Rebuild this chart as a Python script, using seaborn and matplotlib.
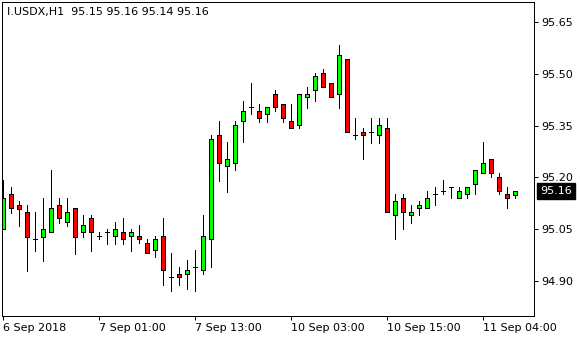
import numpy as np
import pandas as pd
import seaborn as sns
import matplotlib
matplotlib.use("Agg")
import matplotlib.pyplot as plt
from matplotlib.transforms import blended_transform_factory

symbol = "I.USDX,H1"

opens = [95.049, 95.151, 95.119, 95.099, 95.020, 95.028, 95.041, 95.119, 95.070, 95.110,
         95.041, 95.081, 95.029, 95.041, 95.029, 95.041, 95.029, 95.029, 95.009, 94.989,
         95.029, 94.910, 94.919, 94.919, 94.939, 94.931, 95.020, 95.322, 95.232, 95.241,
         95.362, 95.403, 95.392, 95.382, 95.440, 95.412, 95.363, 95.351, 95.432, 95.452,
         95.501, 95.472, 95.440, 95.542, 95.322, 95.330, 95.330, 95.322, 95.342, 95.090,
         95.139, 95.090, 95.110, 95.110, 95.152, 95.159, 95.171, 95.139, 95.152, 95.181,
         95.212, 95.252, 95.200, 95.152, 95.150]
highs = [95.192, 95.172, 95.131, 95.120, 95.100, 95.140, 95.221, 95.140, 95.140, 95.110,
         95.091, 95.091, 95.041, 95.051, 95.071, 95.081, 95.049, 95.062, 95.020, 95.029,
         95.081, 94.980, 94.939, 94.960, 94.989, 95.091, 95.322, 95.362, 95.301, 95.362,
         95.420, 95.472, 95.412, 95.403, 95.452, 95.412, 95.412, 95.440, 95.461, 95.501,
         95.513, 95.472, 95.583, 95.542, 95.371, 95.342, 95.371, 95.371, 95.371, 95.152,
         95.152, 95.119, 95.131, 95.159, 95.172, 95.192, 95.171, 95.172, 95.172, 95.221,
         95.302, 95.252, 95.212, 95.172, 95.160]
lows = [95.049, 95.097, 95.059, 94.930, 94.987, 94.958, 95.041, 95.069, 95.060, 94.979,
        95.028, 94.987, 95.020, 95.008, 95.008, 95.008, 94.987, 95.009, 94.980, 94.968,
        94.889, 94.870, 94.889, 94.877, 94.870, 94.919, 94.939, 95.190, 95.158, 95.220,
        95.301, 95.382, 95.361, 95.361, 95.391, 95.361, 95.342, 95.342, 95.402, 95.420,
        95.461, 95.432, 95.402, 95.330, 95.310, 95.252, 95.300, 95.300, 95.099, 95.020,
        95.049, 95.069, 95.090, 95.110, 95.119, 95.152, 95.139, 95.139, 95.139, 95.152,
        95.212, 95.200, 95.152, 95.110, 95.140]
closes = [95.139, 95.110, 95.109, 95.028, 95.020, 95.049, 95.110, 95.081, 95.099, 95.028,
          95.061, 95.041, 95.029, 95.041, 95.049, 95.020, 95.041, 95.020, 94.980, 95.020,
          94.931, 94.910, 94.910, 94.931, 94.939, 95.029, 95.310, 95.241, 95.252, 95.351,
          95.391, 95.403, 95.371, 95.403, 95.403, 95.371, 95.342, 95.440, 95.440, 95.492,
          95.461, 95.432, 95.553, 95.330, 95.322, 95.322, 95.330, 95.351, 95.099, 95.131,
          95.099, 95.099, 95.119, 95.139, 95.152, 95.159, 95.171, 95.159, 95.172, 95.221,
          95.241, 95.212, 95.159, 95.139, 95.160]

tick_bars = [0, 12, 24, 36, 48, 60]
tick_labels = ["6 Sep 2018", "7 Sep 01:00", "7 Sep 13:00", "10 Sep 03:00",
               "10 Sep 15:00", "11 Sep 04:00"]
price_ticks = [94.90, 95.05, 95.20, 95.35, 95.50, 95.65]

df = pd.DataFrame({"bar": np.arange(len(opens)), "open": opens, "high": highs,
                   "low": lows, "close": closes})
df["bottom"] = df[["open", "close"]].min(axis=1)
df["height"] = (df["close"] - df["open"]).abs()
df["color"] = np.where(df["close"] > df["open"], "#00ff00",
                       np.where(df["close"] < df["open"], "#ff0000", "none"))

sns.set_theme(style="white")
plt.rcParams["font.family"] = ["DejaVu Sans"]

W, H = 580, 340
fig = plt.figure(figsize=(W / 100, H / 100), dpi=100)
fig.patch.set_facecolor("white")
ax = fig.add_axes([2 / W, 1 - 316 / H, 532 / W, 313.7 / H])
ax.set_facecolor("white")

px = 0.72
ax.vlines(df["bar"], df["low"], df["high"], color="black", linewidth=px,
          zorder=1, antialiased=False)
ax.bar(df["bar"], df["height"], bottom=df["bottom"], width=0.52, color=df["color"],
       edgecolor="black", linewidth=px, zorder=2, antialiased=False)

ax.set_xlim(-0.16, 66.34)
ax.set_ylim(94.7983, 95.7068)

ax.set_xticks(tick_bars)
ax.set_xticklabels(tick_labels, ha="left")
ax.yaxis.tick_right()
ax.set_yticks(price_ticks)
ax.set_yticklabels([f"{v:.2f}" for v in price_ticks])
ax.tick_params(axis="x", direction="out", length=3, width=px, pad=2,
               labelsize=8, colors="black", bottom=True)
ax.tick_params(axis="y", direction="out", length=3, width=px, pad=2,
               labelsize=8, colors="black", right=True, left=False)
for s in ax.spines.values():
    s.set_color("black")
    s.set_linewidth(px)
    s.set_visible(True)
ax.grid(False)

title = f"{symbol}  {opens[-1]:.2f} {highs[-1]:.2f} {lows[-1]:.2f} {closes[-1]:.2f}"
ax.text(5 / 532, 1 - 5 / 313.7, title, transform=ax.transAxes, ha="left", va="top",
        fontsize=8, color="black")

trans = blended_transform_factory(ax.transAxes, ax.transData)
ax.text(1 + 6 / 532, closes[-1], f"{closes[-1]:.2f}", transform=trans, ha="left",
        va="center", fontsize=8, color="white", clip_on=False,
        bbox=dict(boxstyle="square,pad=0.25", facecolor="black", edgecolor="black"))

fig.savefig("out.png", dpi=100)
